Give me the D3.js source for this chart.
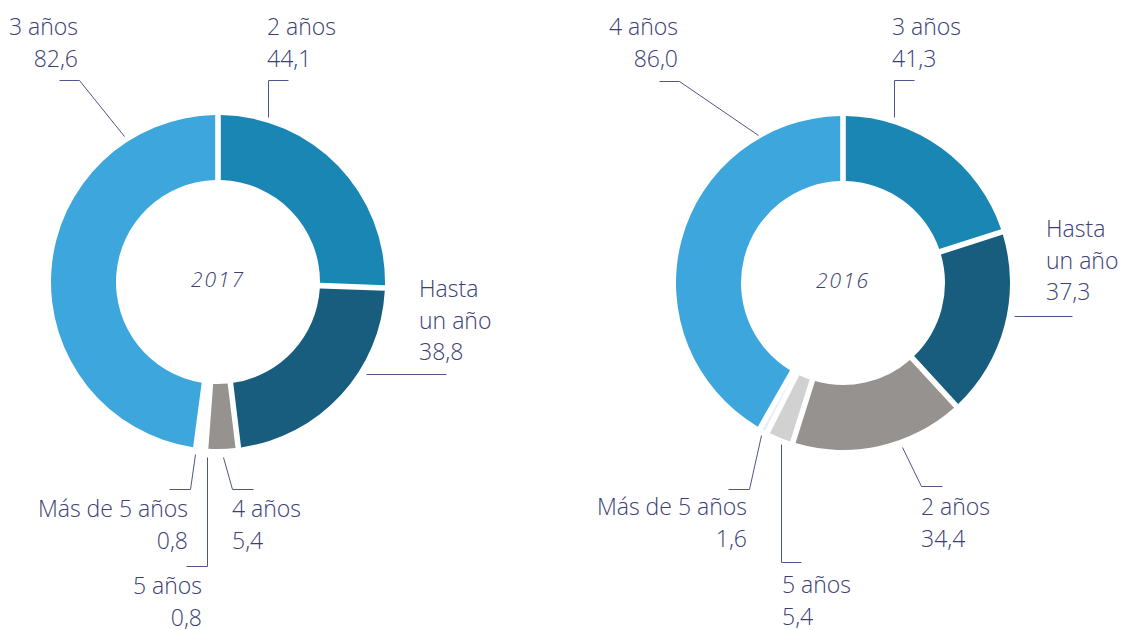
<!DOCTYPE html>
<html>
<head>
<meta charset="utf-8">
<title>Plazos</title>
<script src="https://d3js.org/d3.v7.min.js"></script>
<style>
  body { margin: 0; background: #fff; }
  #plot { width: 1123px; height: 630px; }
  text { font-family: 'Open Sans', 'Noto Sans', sans-serif; font-weight: 300; fill: #3b4074; }
</style>
</head>
<body>
<div id="plot"></div>
<script>
// data
var years = ['2017', '2016']
var categories2017 = ['2 años', 'Hasta un año', '4 años', '5 años', 'Más de 5 años', '3 años']
var values2017 = [44.1, 38.8, 5.4, 0.8, 0.8, 82.6]
var categories2016 = ['3 años', 'Hasta un año', '2 años', '5 años', 'Más de 5 años', '4 años']
var values2016 = [41.3, 37.3, 34.4, 5.4, 1.6, 86.0]

// slice colours go by position, not by category
var colors = ['#1a86b4', '#185c7e', '#959290', '#d1d1d1', '#e6edf3', '#3da6dc']

// label layout, relative to each donut centre (line points, text x / first baseline, anchor)
var layout2017 = [
  {line: [[50,-165],[50,-202],[70,-202]], x: 49, y: -247, anchor: 'start'},
  {line: [[148,92],[228,92]], x: 201, y: 15, anchor: 'start'},
  {line: [[5,175],[14,207],[35,207]], x: 14, y: 235, anchor: 'start'},
  {line: [[-11,175],[-11,284],[-32,284]], x: -16, y: 312, anchor: 'end'},
  {line: [[-23,172],[-28,207],[-49,207]], x: -30, y: 235, anchor: 'end'},
  {line: [[-94,-146],[-139,-202],[-159,-202]], x: -140, y: -247, anchor: 'end'}
]
var layout2016 = [
  {line: [[51,-166],[51,-203],[71,-203]], x: 49, y: -248, anchor: 'start'},
  {line: [[171,33],[229,33]], x: 203, y: -46, anchor: 'start'},
  {line: [[59,164],[78,203],[99,203]], x: 78, y: 232, anchor: 'start'},
  {line: [[-62,161],[-62,279],[-42,279]], x: -61, y: 310, anchor: 'start'},
  {line: [[-82,152],[-94,206],[-115,206]], x: -96, y: 232, anchor: 'end'},
  {line: [[-85,-148],[-164,-202],[-184,-202]], x: -165, y: -248, anchor: 'end'}
]

var width = 1123, height = 630
var outerR = 167, innerR = 102
var lineH = 31.5

var svg = d3.select('#plot').append('svg')
  .attr('width', width)
  .attr('height', height)

var charts = [
  {year: years[0], cats: categories2017, vals: values2017, layout: layout2017, cx: 218, cy: 282},
  {year: years[1], cats: categories2016, vals: values2016, layout: layout2016, cx: 843, cy: 283}
]

var pie = d3.pie().sort(null).value(function(d){ return d })
var arc = d3.arc()
  .innerRadius(innerR)
  .outerRadius(outerR)
  .padRadius(100)
  .padAngle(0.056)

var fmt = function(v){ return v.toFixed(1).replace('.', ',') }

charts.forEach(function(c){
  var g = svg.append('g')
    .attr('transform', 'translate(' + c.cx + ',' + c.cy + ')')

  g.selectAll('path.slice')
    .data(pie(c.vals))
    .enter()
    .append('path')
      .attr('class', 'slice')
      .attr('d', arc)
      .attr('fill', function(d, i){ return colors[i] })

  g.append('text')
    .attr('x', 0)
    .attr('y', 5)
    .attr('text-anchor', 'middle')
    .style('font-style', 'italic')
    .style('font-size', '21px')
    .style('letter-spacing', '2px')
    .text(c.year)

  var line = d3.line()
  c.cats.forEach(function(cat, i){
    var L = c.layout[i]
    g.append('path')
      .attr('d', line(L.line.map(function(p){ return [p[0] + 0.5, p[1] + 0.5] })))
      .attr('fill', 'none')
      .attr('stroke', '#4f5688')
      .attr('stroke-width', 1)

    var lines = cat == 'Hasta un año' ? ['Hasta', 'un año'] : [cat]
    lines.push(fmt(c.vals[i]))
    var t = g.append('text')
      .attr('text-anchor', L.anchor)
      .style('font-size', '23px')
    lines.forEach(function(s, k){
      t.append('tspan')
        .attr('x', L.x)
        .attr('y', L.y + k * lineH)
        .text(s)
    })
  })
})
</script>
</body>
</html>
